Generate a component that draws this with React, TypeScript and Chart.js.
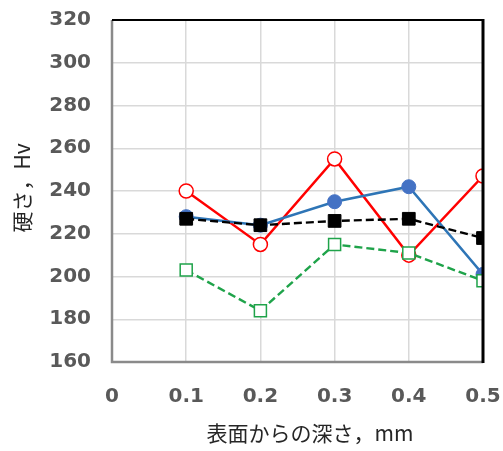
import React, { useEffect, useRef } from "react";
import { Chart, registerables } from "chart.js";

Chart.register(...registerables);

const depths = [0.1, 0.2, 0.3, 0.4, 0.5];
const blueSeries = [228, 224, 235, 242, 201];
const redSeries = [240, 215, 255, 210, 247];
const blackSeries = [227, 224, 226, 227, 218];
const greenSeries = [203, 184, 215, 211, 198];
const xTitle = "表面からの深さ，mm";
const yTitle = "硬さ，Hv";

const toPts = (vals: number[]) => vals.map((v, i) => ({ x: depths[i], y: v }));

const framePlugin = {
  id: "frameAndTitles",
  beforeDatasetsDraw(chart: any) {
    const { ctx, chartArea } = chart;
    const { left, right, top, bottom } = chartArea;
    ctx.save();
    ctx.strokeStyle = "#8a8a8a";
    ctx.lineWidth = 2.5;
    ctx.beginPath();
    ctx.moveTo(left, top);
    ctx.lineTo(left, bottom);
    ctx.lineTo(right, bottom);
    ctx.stroke();
    ctx.strokeStyle = "#000000";
    ctx.lineWidth = 2;
    ctx.beginPath();
    ctx.moveTo(left, top);
    ctx.lineTo(right, top);
    ctx.stroke();
    ctx.restore();
  },
  afterDatasetsDraw(chart: any) {
    const { ctx, chartArea } = chart;
    const { right, top, bottom } = chartArea;
    ctx.save();
    ctx.strokeStyle = "#000000";
    ctx.lineWidth = 3;
    ctx.beginPath();
    ctx.moveTo(right, top - 1);
    ctx.lineTo(right, bottom + 1);
    ctx.stroke();
    ctx.restore();
  },
  afterDraw(chart: any) {
    const { ctx } = chart;
    ctx.save();
    ctx.fillStyle = "#262626";
    ctx.font = '21px "Noto Sans CJK JP"';
    ctx.textAlign = "center";
    ctx.textBaseline = "middle";
    ctx.fillText(xTitle, 310, 433);
    ctx.translate(22, 188);
    ctx.rotate(-Math.PI / 2);
    ctx.fillText(yTitle, 0, 0);
    ctx.restore();
  },
};

export default function App() {
  const ref = useRef<HTMLCanvasElement | null>(null);
  useEffect(() => {
    document.body.style.margin = "0";
    const canvas = ref.current;
    if (!canvas) return;
    const tickFont = { family: '"DejaVu Sans"', size: 20, weight: "bold" as const };
    const chart = new Chart(canvas, {
      type: "line",
      data: {
        datasets: [
          {
            data: toPts(blackSeries),
            borderColor: "#000000",
            backgroundColor: "#000000",
            borderWidth: 2.4,
            borderDash: [8, 4],
            pointStyle: "rect",
            pointRadius: 9,
            pointBorderColor: "#000000",
            pointBackgroundColor: "#000000",
            pointBorderWidth: 1,
          },
          {
            data: toPts(greenSeries),
            borderColor: "#1fa34a",
            backgroundColor: "#ffffff",
            borderWidth: 2.4,
            borderDash: [8, 4],
            pointStyle: "rect",
            pointRadius: 8.5,
            pointBorderColor: "#1fa34a",
            pointBackgroundColor: "#ffffff",
            pointBorderWidth: 1.5,
          },
          {
            data: toPts(blueSeries),
            borderColor: "#2e75b6",
            backgroundColor: "#4472c4",
            borderWidth: 2.5,
            pointStyle: "circle",
            pointRadius: 7,
            pointBorderColor: "#4472c4",
            pointBackgroundColor: "#4472c4",
            pointBorderWidth: 1,
          },
          {
            data: toPts(redSeries),
            borderColor: "#ff0000",
            backgroundColor: "#ffffff",
            borderWidth: 2.5,
            pointStyle: "circle",
            pointRadius: 7,
            pointBorderColor: "#ff0000",
            pointBackgroundColor: "#ffffff",
            pointBorderWidth: 1.5,
          },
        ],
      },
      options: {
        animation: false,
        responsive: false,
        events: [],
        layout: { padding: { left: 0, top: 20, right: 20, bottom: 0 } },
        plugins: { legend: { display: false }, tooltip: { enabled: false } },
        scales: {
          x: {
            type: "linear",
            min: 0,
            max: 0.5,
            ticks: {
              stepSize: 0.1,
              font: tickFont,
              color: "#595959",
              padding: 23,
              maxRotation: 0,
              callback: (v: any) => (Number(v) === 0 ? "0" : Number(v).toFixed(1)),
            },
            grid: { color: "#d9d9d9", lineWidth: 1.5, drawTicks: false },
            border: { display: false },
            afterFit: (s: any) => {
              s.height = 89;
              s.paddingLeft = 0;
              s.paddingRight = 0;
            },
          },
          y: {
            type: "linear",
            min: 160,
            max: 320,
            ticks: { stepSize: 20, font: tickFont, color: "#595959", padding: 21 },
            grid: { color: "#d9d9d9", lineWidth: 1.5, drawTicks: false },
            border: { display: false },
            afterFit: (s: any) => {
              s.width = 112;
              s.paddingTop = 0;
              s.paddingBottom = 0;
            },
          },
        },
      },
      plugins: [framePlugin],
    });
    return () => chart.destroy();
  }, []);
  return <canvas ref={ref} width={503} height={451} style={{ display: "block" }} />;
}
